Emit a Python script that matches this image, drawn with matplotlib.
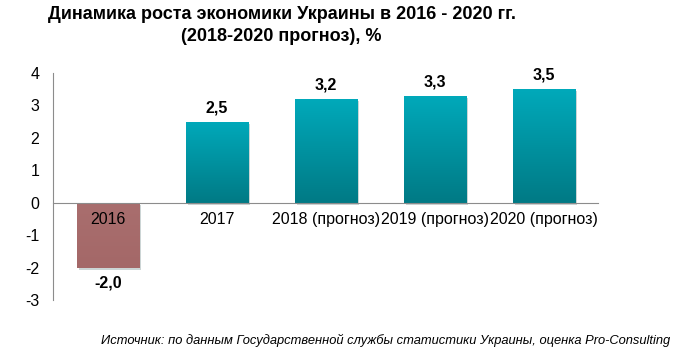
import matplotlib.pyplot as plt
import matplotlib.patheffects as pe
import numpy as np
from matplotlib.colors import LinearSegmentedColormap

plt.rcParams["font.family"] = ["Liberation Sans", "DejaVu Sans"]

categories = ["2016", "2017", "2018 (прогноз)", "2019 (прогноз)", "2020 (прогноз)"]
values = [-2.0, 2.5, 3.2, 3.3, 3.5]
value_labels = ["-2,0", "2,5", "3,2", "3,3", "3,5"]
yticks = [-3, -2, -1, 0, 1, 2, 3, 4]

teal = LinearSegmentedColormap.from_list("teal", ["#007a85", "#00a9ba"])
brown = LinearSegmentedColormap.from_list("brown", ["#a46868", "#a96e6e"])

fig = plt.figure(figsize=(6.82, 3.61), dpi=100)
ax = fig.add_axes([0.078, 0.169, 0.799, 0.629])

x = np.arange(len(categories))
width = 0.57
bars = ax.bar(x, values, width=width, color="#00959f", zorder=2,
              path_effects=[pe.SimplePatchShadow(offset=(1.5, -1.5), alpha=0.2), pe.Normal()])

grad = np.linspace(0, 1, 100).reshape(-1, 1)
for xi, v, b in zip(x, values, bars):
    cmap = brown if v < 0 else teal
    lo, hi = min(0, v), max(0, v)
    im = ax.imshow(grad, cmap=cmap, origin="lower", aspect="auto",
                   extent=[xi - width / 2, xi + width / 2, lo, hi], zorder=3)
    im.set_clip_path(b)

for xi, v, lab in zip(x, values, value_labels):
    if v >= 0:
        ax.text(xi, v + 0.2, lab, ha="center", va="bottom", fontsize=11.5,
                fontweight="bold")
    else:
        ax.text(xi, v - 0.25, lab, ha="center", va="top", fontsize=11.5,
                fontweight="bold")

for xi, cat in zip(x, categories):
    ax.text(xi, -0.53, cat, ha="center", va="center", fontsize=11.5, zorder=4)

ax.set_xlim(-0.5, len(categories) - 0.5)
ax.set_ylim(-3, 4)
ax.set_yticks(yticks)
ax.set_yticklabels([str(t) for t in yticks], fontsize=11.5)
ax.set_xticks([])
ax.tick_params(axis="y", length=0, pad=10)

for s in ["top", "right"]:
    ax.spines[s].set_visible(False)
ax.spines["bottom"].set_position(("data", 0))
ax.spines["bottom"].set_color("#8c8c8c")
ax.spines["left"].set_color("#8c8c8c")
ax.spines["bottom"].set_zorder(5)

fig.text(0.413, 0.93, "Динамика роста экономики Украины в 2016 - 2020 гг.\n(2018-2020 прогноз), %",
         ha="center", va="center", fontsize=13, fontweight="bold", linespacing=1.35)

fig.text(0.983, 0.058, "Источник: по данным Государственной службы статистики Украины, оценка Pro-Consulting",
         ha="right", va="center", fontsize=9.3, style="italic")

fig.savefig("out.png", dpi=100)
